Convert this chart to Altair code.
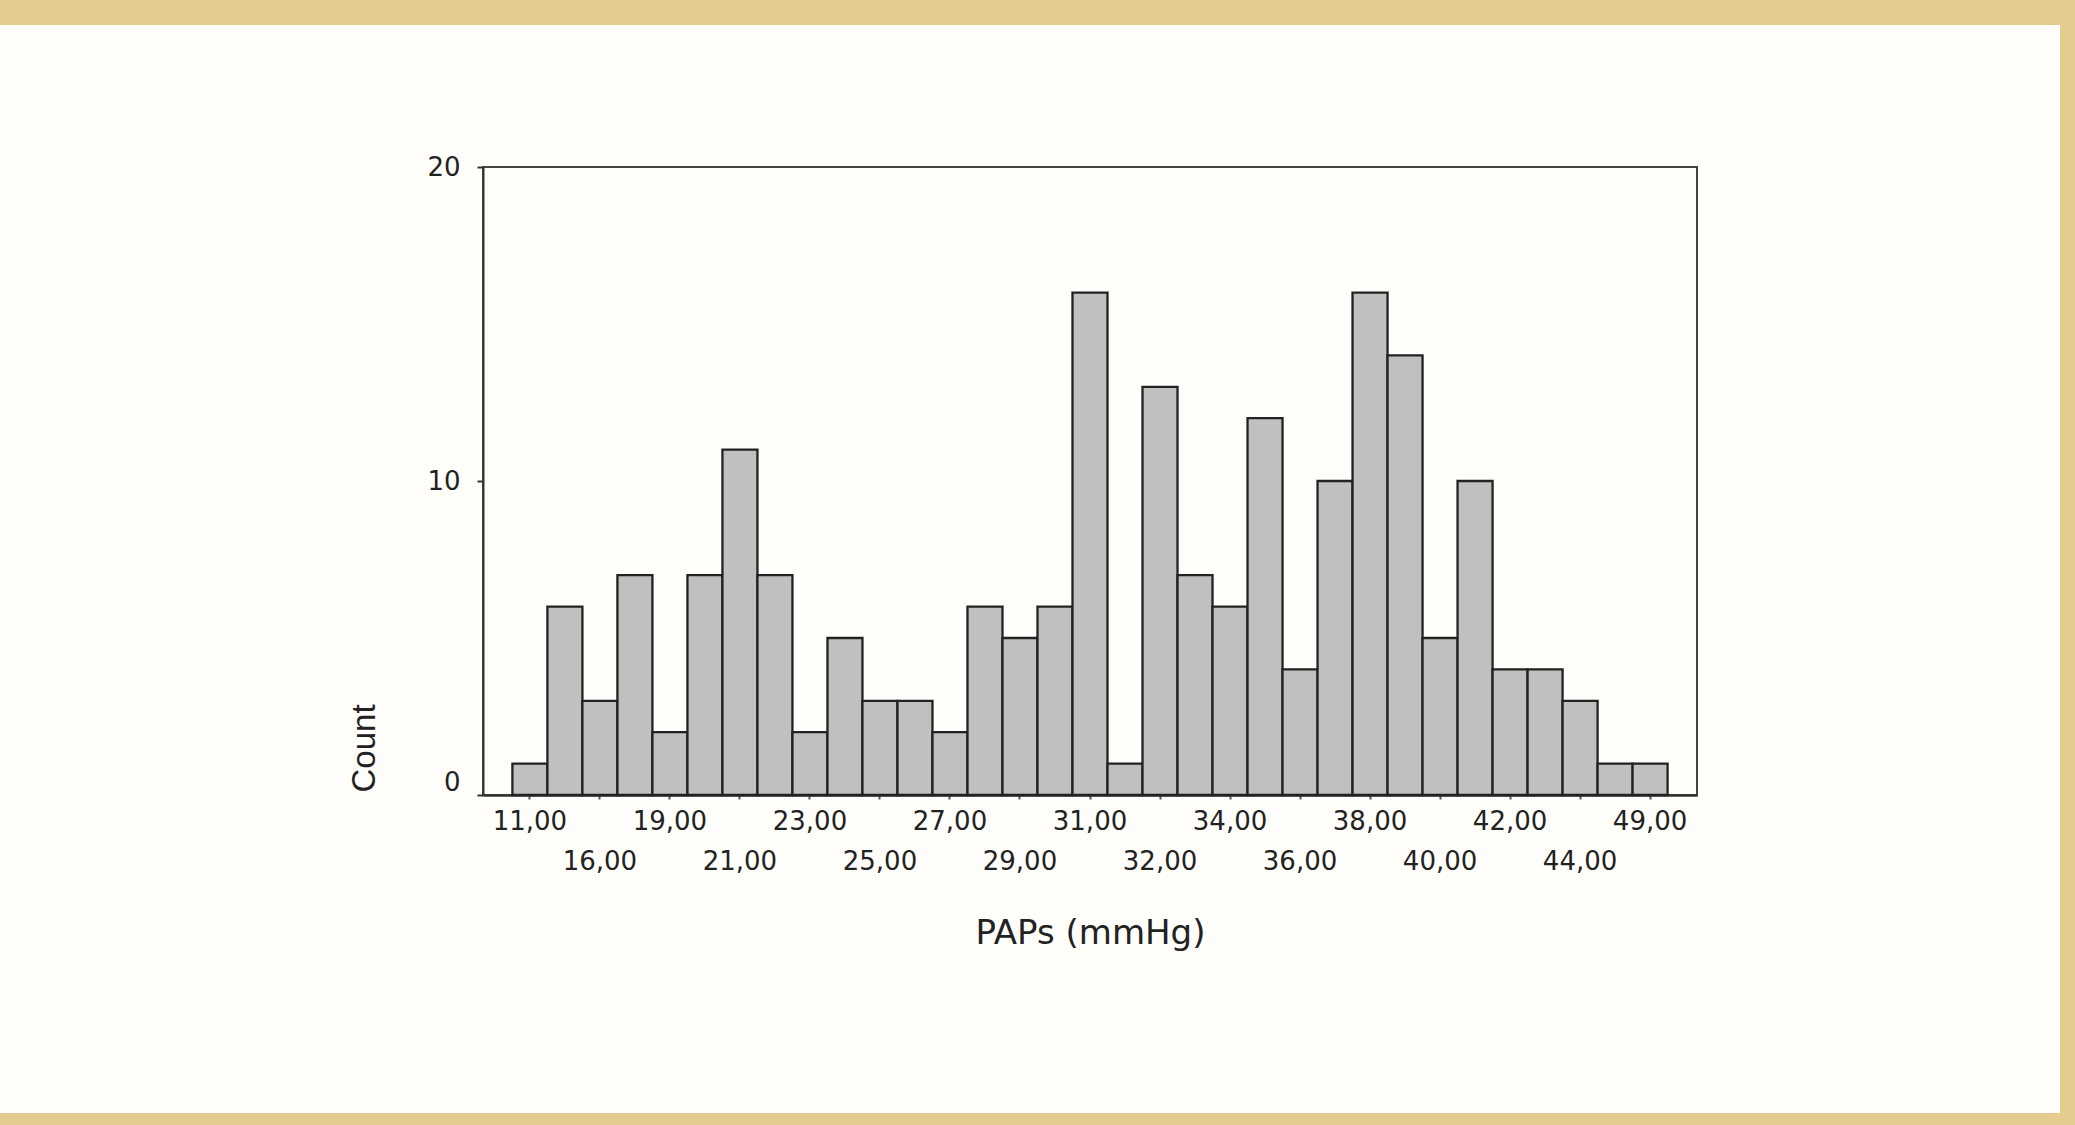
import altair as alt
import pandas as pd

# ---- data (SPSS-style histogram of PAPs) ----
paps_values = ["11,00", "15,00", "16,00", "18,00", "19,00", "20,00", "21,00", "22,00",
               "23,00", "24,00", "25,00", "26,00", "27,00", "28,00", "29,00", "30,00",
               "31,00", "31,50", "32,00", "33,00", "34,00", "35,00", "36,00", "37,00",
               "38,00", "39,00", "40,00", "41,00", "42,00", "43,00", "44,00", "46,00",
               "49,00"]
counts = [1, 6, 3, 7, 2, 7, 11, 7, 2, 5, 3, 3, 2, 6, 5, 6,
          16, 1, 13, 7, 6, 12, 4, 10, 16, 14, 5, 10, 4, 4, 3, 1, 1]
row1_ticks = ["11,00", "19,00", "23,00", "27,00", "31,00", "34,00", "38,00", "42,00", "49,00"]
row2_ticks = ["16,00", "21,00", "25,00", "29,00", "32,00", "36,00", "40,00", "44,00"]
y_ticks = [0, 10, 20]

df = pd.DataFrame({"PAPs": paps_values, "Count": counts})

W, H = 1214, 628
LEFT, TOP = 483, 167
TOTAL_W, TOTAL_H = 2075, 1125
TAN = "#e6cb8f"
TEXT = "#222222"
FONT = "DejaVu Sans"

x_scale = alt.Scale(domain=paps_values, paddingInner=0, paddingOuter=0.84)
y_scale = alt.Scale(domain=[0, 20], nice=False)

y_axis = alt.Axis(
    values=y_ticks, title="Count", grid=False,
    labelFont=FONT, labelFontSize=26, labelColor=TEXT, labelPadding=17,
    labelBaseline={"condition": {"test": "datum.value == 0", "value": "bottom"}, "value": "middle"},
    tickSize=6, tickColor="#333333", tickWidth=2,
    domainColor="#333333", domainWidth=2,
    titleFont="Liberation Sans", titleFontSize=33, titleFontWeight="normal",
    titleColor=TEXT, titleAngle=270, titleAlign="left", titleBaseline="middle",
    titleX=-119, titleY=H - 3,
)

bars = alt.Chart(df).mark_bar(
    fill="#c0c0c0", stroke="#222222", strokeWidth=2.3
).encode(
    x=alt.X("PAPs:N", sort=paps_values, scale=x_scale,
            axis=alt.Axis(values=row1_ticks, orient="bottom", title=None, labelAngle=0,
                          labelFont=FONT, labelFontSize=26, labelColor=TEXT,
                          labelBaseline="top", labelPadding=9,
                          tickSize=4, tickColor="#555555", tickWidth=2,
                          domainColor="#333333", domainWidth=2)),
    y=alt.Y("Count:Q", scale=y_scale, axis=y_axis),
)

bars_row2 = alt.Chart(df).mark_bar(opacity=0).encode(
    x=alt.X("PAPs:N", sort=paps_values, scale=x_scale,
            axis=alt.Axis(values=row2_ticks, orient="bottom", title="PAPs (mmHg)", labelAngle=0,
                          labelFont=FONT, labelFontSize=26, labelColor=TEXT,
                          labelBaseline="top", labelPadding=49,
                          tickSize=4, tickColor="#555555", tickWidth=2,
                          domainColor="#333333", domainWidth=2,
                          titleFont=FONT, titleFontSize=34, titleFontWeight="normal",
                          titleColor=TEXT, titleBaseline="middle", titleAnchor="middle",
                          titleX=W / 2, titleY=138)),
    y=alt.Y("Count:Q", scale=y_scale, axis=y_axis),
)

# decorative page border (tan strips around the white slide)
one = alt.Data(values=[{"k": 1}])
top_strip = alt.Chart(one).mark_rect(color=TAN).encode(
    x=alt.value(-LEFT), x2=alt.value(TOTAL_W - LEFT), y=alt.value(-TOP), y2=alt.value(25 - TOP))
bottom_strip = alt.Chart(one).mark_rect(color=TAN).encode(
    x=alt.value(-LEFT), x2=alt.value(TOTAL_W - LEFT), y=alt.value(1113 - TOP), y2=alt.value(TOTAL_H - TOP))
right_strip = alt.Chart(one).mark_rect(color=TAN).encode(
    x=alt.value(2060 - LEFT), x2=alt.value(TOTAL_W - LEFT), y=alt.value(-TOP), y2=alt.value(TOTAL_H - TOP))

chart = alt.layer(
    bars, bars_row2, top_strip, bottom_strip, right_strip
).resolve_axis(
    x="independent"
).properties(
    width=W, height=H,
    padding={"left": LEFT, "top": TOP, "right": TOTAL_W - LEFT - W, "bottom": TOTAL_H - TOP - H},
    autosize=alt.AutoSizeParams(type="none"),
    background="#fffefb",
).configure_view(
    stroke="#444444", strokeWidth=2
)

chart.save("out.html", embed_options={"renderer": "svg", "actions": False})
